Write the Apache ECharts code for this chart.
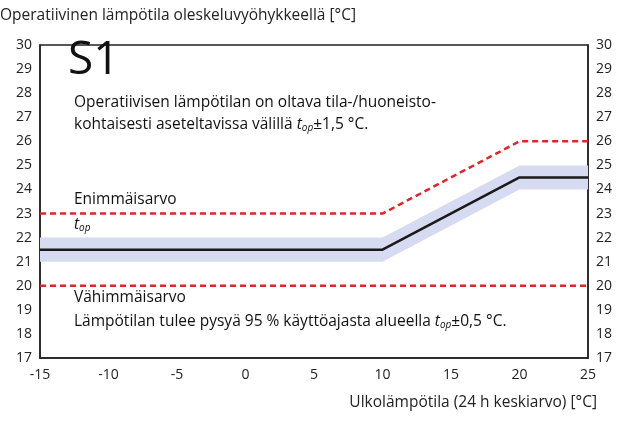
<!DOCTYPE html>
<html><head><meta charset="utf-8">
<script src="https://cdn.jsdelivr.net/npm/echarts@6/dist/echarts.min.js"></script>
<style>html,body{margin:0;padding:0;background:#fff}#c{width:629px;height:424px}</style>
</head><body><div id="c"></div>
<script>
const xPoints = [-15, 10, 20, 25];
const topLimit = [23, 23, 26, 26];
const bottomLimit = [20, 20, 20, 20];
const topTarget = [21.5, 21.5, 24.5, 24.5];
const bandHalf = 0.5;
const yTicks = [17,18,19,20,21,22,23,24,25,26,27,28,29,30];

const pairs = arr => xPoints.map((x,i)=>[x,arr[i]]);
const F = 'Open Sans, Liberation Sans, sans-serif';
const FS = 15.5;
const chart = echarts.init(document.getElementById('c'));
const yAxisBase = {type:'value',min:17,max:30,interval:1,
  axisLine:{show:true,onZero:false,lineStyle:{color:'#222',width:1.5}},axisTick:{show:false},splitLine:{show:false},
  axisLabel:{color:'#222',fontSize:14,fontFamily:F,margin:8}};
const sub = {i:{fontSize:FS,fontStyle:'italic',fontFamily:F,fill:'#111'},s:{fontSize:10,fontStyle:'italic',fontFamily:F,fill:'#111',padding:[7,0,0,0]},a:{fontSize:FS,fontFamily:F,fill:'#111'}};
chart.setOption({
  animation:false,
  grid:{left:40,right:41,top:45,bottom:66,show:true,borderColor:'#222',borderWidth:1.5},
  xAxis:{type:'value',min:-15,max:25,interval:5,
    axisLine:{onZero:false,lineStyle:{color:'#222',width:1.5}},axisTick:{show:false},splitLine:{show:false},
    axisLabel:{color:'#222',fontSize:14,fontFamily:F,margin:10}},
  yAxis:[Object.assign({},yAxisBase,{position:'left'}),Object.assign({},yAxisBase,{position:'right'})],
  series:[
    {type:'custom',data:[0],silent:true,z:1,renderItem:(params,api)=>{
      const upper = xPoints.map((x,i)=>api.coord([x,topTarget[i]+bandHalf]));
      const lower = xPoints.map((x,i)=>api.coord([x,topTarget[i]-bandHalf])).reverse();
      return {type:'polygon',shape:{points:upper.concat(lower)},style:{fill:'#d6dbf1'}};
    }},
    {type:'line',data:pairs(topLimit),symbol:'none',z:3,lineStyle:{color:'#e3232c',width:2.5,type:[6,4]}},
    {type:'line',data:pairs(bottomLimit),symbol:'none',z:3,lineStyle:{color:'#e3232c',width:2.5,type:[6,4]}},
    {type:'line',data:pairs(topTarget),symbol:'none',z:3,lineStyle:{color:'#1a1a1a',width:2.5}}
  ],
  graphic:[
    {type:'text',left:0,top:8,style:{text:'Operatiivinen lämpötila oleskeluvyöhykkeellä [°C]',fontSize:FS,fontFamily:F,fill:'#222'}},
    {type:'text',right:32,top:395,style:{text:'Ulkolämpötila (24 h keskiarvo) [°C]',fontSize:FS,fontFamily:F,fill:'#222'}},
    {type:'text',left:68,top:38,style:{text:'S1',fontSize:46,fontFamily:F,fill:'#111'}},
    {type:'text',left:74,top:95,style:{text:'Operatiivisen lämpötilan on oltava tila-/huoneisto-',fontSize:FS,fontFamily:F,fill:'#111'}},
    {type:'text',left:74,top:117,style:{text:'{a|kohtaisesti aseteltavissa välillä }{i|t}{s|op}{a|±1,5 °C.}',rich:sub}},
    {type:'text',left:74,top:192,style:{text:'Enimmäisarvo',fontSize:FS,fontFamily:F,fill:'#111'}},
    {type:'text',left:74,top:217,style:{text:'{i|t}{s|op}',rich:sub}},
    {type:'line',shape:{x1:88,y1:238,x2:97,y2:252},style:{stroke:'#111',lineWidth:1}},
    {type:'text',left:74,top:290,style:{text:'Vähimmäisarvo',fontSize:FS,fontFamily:F,fill:'#111'}},
    {type:'text',left:74,top:314,style:{text:'{a|Lämpötilan tulee pysyä 95 % käyttöajasta alueella }{i|t}{s|op}{a|±0,5 °C.}',rich:sub}}
  ]
});
</script></body></html>
